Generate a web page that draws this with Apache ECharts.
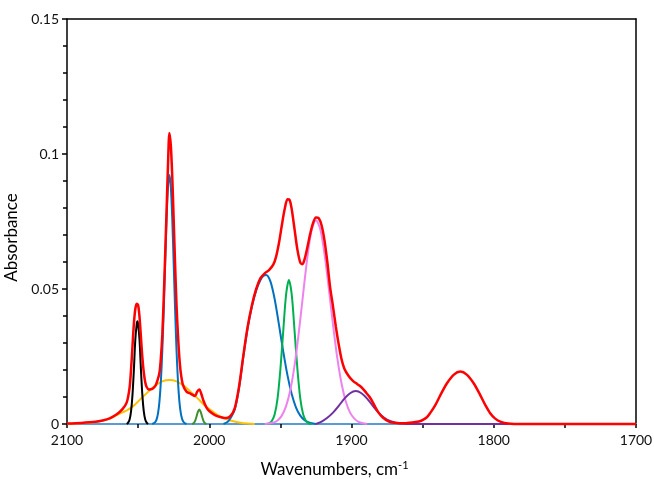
<!DOCTYPE html>
<html>
<head>
<meta charset="utf-8">
<script src="https://cdn.jsdelivr.net/npm/echarts@6/dist/echarts.min.js"></script>
<style>
  html, body { margin: 0; padding: 0; background: #fff; }
  #main { width: 654px; height: 479px; }
</style>
</head>
<body>
<div id="main"></div>
<script>
// axis settings
var xMin = 1700, xMax = 2100, xStep = 50;
var yMin = 0, yMax = 0.15, yStep = 0.05;

// fitted component bands, [wavenumber, absorbance]
var yellowBand = [[2100,0.0001],[2090,0.0003],[2080,0.0007],[2075,0.0012],[2070,0.002],[2065,0.0033],[2061,0.0043],[2058,0.005],[2053,0.0068],[2048,0.0094],[2043,0.0119],[2038,0.0142],[2033,0.0158],[2028,0.0163],[2023,0.0158],[2018,0.0142],[2013,0.0119],[2008,0.0094],[2003,0.0068],[1998,0.0048],[1993,0.003],[1988,0.0018],[1983,0.001],[1978,0.0005],[1973,0.0002],[1968,0]];
var blackBand = [[2058,0],[2057,0.0005],[2056,0.0017],[2055,0.0046],[2054,0.0105],[2053,0.0199],[2052,0.031],[2051,0.037],[2050.5,0.0381],[2050,0.037],[2049,0.031],[2048,0.0199],[2047,0.0105],[2046,0.0046],[2045,0.0017],[2044,0.0005],[2043,0]];
var blueNarrow = [[2040,0],[2038,0.0007],[2037,0.0017],[2036,0.004],[2035,0.0084],[2034,0.0159],[2033,0.0272],[2032,0.0422],[2031,0.0594],[2030,0.0759],[2029,0.0877],[2028,0.0922],[2027,0.0877],[2026,0.0759],[2025,0.0594],[2024,0.0422],[2023,0.0272],[2022,0.0159],[2021,0.0084],[2020,0.004],[2019,0.0017],[2018,0.0007],[2016,0]];
var greenSmall = [[2012,0],[2011,0.0003],[2010,0.0011],[2009,0.0027],[2008,0.0045],[2007,0.0054],[2006,0.0045],[2005,0.0027],[2004,0.0011],[2003,0.0003],[2002,0]];
var blueBroad = [[1990,0],[1987,0.0008],[1985,0.0022],[1982,0.0055],[1979,0.0135],[1976,0.025],[1973,0.0355],[1970,0.0435],[1967,0.0495],[1964,0.0533],[1962,0.0548],[1960,0.0552],[1957,0.0528],[1954,0.0462],[1951,0.0368],[1948,0.0269],[1945,0.018],[1942,0.011],[1939,0.0061],[1936,0.0031],[1933,0.0014],[1930,0.0006],[1925,0]];
var greenBig = [[1960,0],[1958,0.0002],[1956,0.0011],[1954,0.0036],[1952,0.0094],[1950,0.0202],[1948,0.0343],[1946,0.0478],[1944,0.0533],[1942,0.0478],[1940,0.0343],[1938,0.0202],[1936,0.0094],[1934,0.0036],[1932,0.0011],[1930,0.0002],[1928,0]];
var violetBand = [[1961,0],[1958,0.0002],[1955,0.0005],[1952,0.0013],[1949,0.0031],[1946,0.0066],[1943,0.0126],[1940,0.0218],[1937,0.0341],[1934,0.0482],[1931,0.0618],[1928,0.0718],[1925,0.0755],[1922,0.0722],[1919,0.0631],[1916,0.0504],[1913,0.0368],[1910,0.0245],[1907,0.015],[1904,0.0083],[1901,0.0042],[1898,0.002],[1895,0.0008],[1892,0.0003],[1889,0]];
var purpleBand = [[1925,0],[1921,0.0009],[1917,0.0023],[1913,0.0042],[1909,0.0067],[1905,0.0094],[1901,0.0114],[1897,0.0122],[1893,0.0114],[1889,0.0094],[1885,0.0067],[1881,0.0042],[1877,0.0023],[1873,0.0011],[1869,0.0005],[1865,0.0002],[1861,0],[1790,0]];

// measured spectrum (red)
var spectrum = [[2100,0.0002],[2090,0.0004],[2080,0.0008],[2075,0.0013],[2070,0.0021],[2065,0.0036],[2061,0.0055],[2058,0.008],[2056,0.0135],[2055,0.02],[2054,0.0285],[2053,0.037],[2052,0.0425],[2051,0.0445],[2050,0.044],[2049,0.0395],[2048,0.032],[2047,0.0245],[2046,0.019],[2045,0.0155],[2044,0.0137],[2042.5,0.0128],[2040,0.013],[2038,0.014],[2036.5,0.016],[2035,0.019],[2034,0.0245],[2033,0.033],[2032,0.0465],[2031,0.0625],[2030,0.079],[2029,0.096],[2028,0.1078],[2027,0.103],[2026,0.0915],[2025,0.0755],[2024,0.059],[2023,0.044],[2022,0.033],[2021,0.0245],[2020,0.019],[2018.5,0.0145],[2016,0.012],[2013,0.0112],[2010,0.0104],[2008.5,0.012],[2007,0.0128],[2005.5,0.011],[2004,0.0085],[2002,0.0062],[2000,0.0048],[1996,0.0033],[1991,0.0024],[1988,0.0022],[1985,0.003],[1982,0.006],[1979,0.014],[1976,0.0255],[1973,0.036],[1970,0.044],[1967,0.05],[1964,0.054],[1961,0.0558],[1958,0.057],[1955,0.059],[1953,0.062],[1951,0.067],[1949,0.0735],[1947,0.0795],[1945,0.0832],[1943.5,0.083],[1942,0.0795],[1940,0.072],[1938,0.0645],[1936,0.0598],[1934.5,0.0592],[1933,0.061],[1931,0.0655],[1929,0.0705],[1927,0.0745],[1925,0.0765],[1923,0.0762],[1921,0.0735],[1919,0.068],[1917,0.06],[1915,0.0505],[1913,0.0435],[1911,0.036],[1909,0.0295],[1907,0.024],[1905,0.0205],[1902,0.0178],[1899,0.016],[1896,0.0148],[1893,0.0136],[1890,0.0118],[1887,0.0098],[1884,0.007],[1881,0.0042],[1878,0.0024],[1874,0.001],[1870,0.0005],[1862,0.0003],[1855,0.0007],[1851,0.0012],[1847,0.0025],[1844.5,0.0042],[1841,0.0071],[1837.5,0.0107],[1833,0.015],[1828,0.0183],[1823.5,0.0194],[1819,0.0183],[1814,0.015],[1809.5,0.0107],[1806,0.0071],[1802.5,0.004],[1799,0.002],[1795,0.0008],[1790,0.0002],[1780,0],[1700,0]];

var font = 'Lato, "Open Sans", sans-serif';

function band(data, color, width) {
  return {
    type: 'line',
    data: data,
    smooth: 0.3,
    symbol: 'none',
    clip: false,
    lineStyle: { color: color, width: width }
  };
}

var chart = echarts.init(document.getElementById('main'));
chart.setOption({
  animation: false,
  backgroundColor: '#fff',
  grid: { left: 67, right: 18, top: 19, bottom: 55, outerBoundsMode: 'none', containLabel: false },
  xAxis: [{
    type: 'value',
    min: xMin, max: xMax, interval: xStep,
    inverse: true,
    name: 'Wavenumbers, cm{sup|-1}',
    nameLocation: 'middle',
    nameGap: 36,
    nameTextStyle: {
      fontFamily: font, fontSize: 17, color: '#000',
      padding: [0, 34, 0, 0],
      rich: { sup: { fontFamily: font, fontSize: 11, verticalAlign: 'top', padding: [0, 0, 8, 0], color: '#000' } }
    },
    axisLine: { lineStyle: { color: '#5b9bd5', width: 2 } },
    axisTick: { show: true, length: 4, lineStyle: { color: '#000', width: 1.5 } },
    axisLabel: {
      fontFamily: font, fontSize: 14, color: '#111', margin: 9,
      formatter: function (v) { return v % 100 === 0 ? String(v) : ''; }
    },
    splitLine: { show: false }
  }, {
    type: 'value', position: 'top',
    min: xMin, max: xMax, inverse: true,
    axisLine: { show: true, onZero: false, lineStyle: { color: '#000', width: 1.5 } },
    axisTick: { show: false }, axisLabel: { show: false }, splitLine: { show: false }
  }],
  yAxis: [{
    type: 'value',
    min: yMin, max: yMax, interval: yStep,
    name: 'Absorbance',
    nameLocation: 'middle',
    nameGap: 40,
    nameRotate: 90,
    nameTextStyle: { fontFamily: font, fontSize: 17, color: '#000', padding: [0, 32, 0, 0] },
    axisLine: { show: true, lineStyle: { color: '#000', width: 1.5 } },
    axisTick: { show: true, length: 5, lineStyle: { color: '#000', width: 1.5 } },
    minorTick: { show: true, splitNumber: 5, length: 4, lineStyle: { color: '#000', width: 1.5 } },
    axisLabel: { fontFamily: font, fontSize: 14, color: '#111', margin: 8 },
    splitLine: { show: false }
  }, {
    type: 'value', position: 'right',
    min: yMin, max: yMax,
    axisLine: { show: true, onZero: false, lineStyle: { color: '#000', width: 1.5 } },
    axisTick: { show: false }, axisLabel: { show: false }, splitLine: { show: false }
  }],
  series: [
    band(yellowBand, '#ffc000', 2),
    band(blackBand, '#000000', 2),
    band(blueNarrow, '#0070c0', 2),
    band(greenSmall, '#3f8f2f', 2),
    band(blueBroad, '#0070c0', 2),
    band(greenBig, '#00b050', 2),
    band(violetBand, '#ee82ee', 2),
    band(purpleBand, '#7030a0', 2),
    band(spectrum, '#ff0000', 2.5)
  ]
});
</script>
</body>
</html>
